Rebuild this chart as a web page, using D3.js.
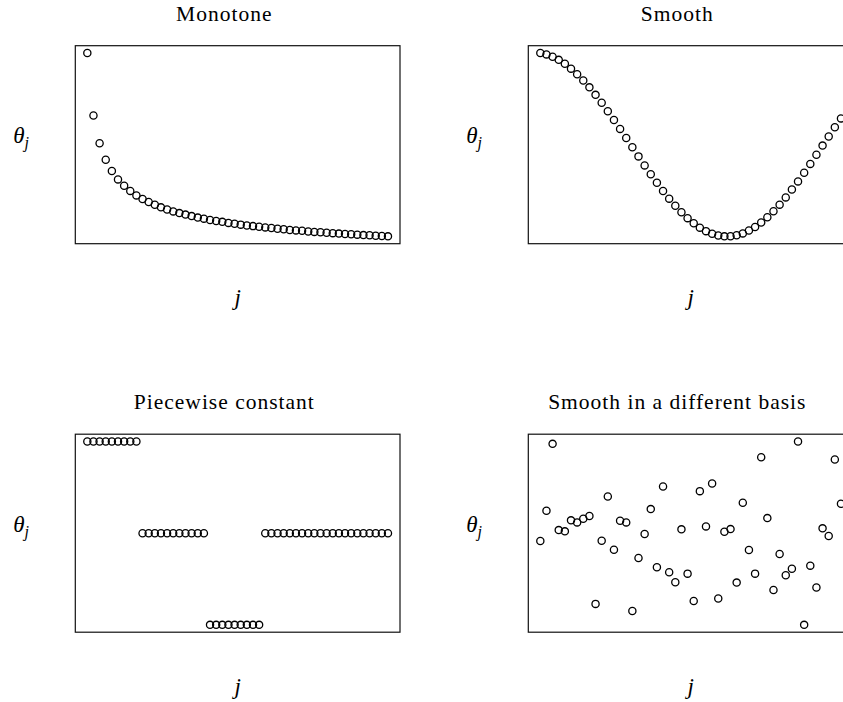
<!DOCTYPE html>
<html>
<head>
<meta charset="utf-8">
<script src="https://cdn.jsdelivr.net/npm/d3@7/dist/d3.min.js"></script>
<style>
    body { margin: 0; background: #fff; }
    text { font-family: "Liberation Serif", "DejaVu Serif", serif; fill: #000; }
</style>
</head>
<body>
<svg id="figure" width="843" height="702"></svg>
<script>
// index j = 1..50, same for every panel
var jIndex = d3.range(1, 51);

var panelTitles = ["Monotone", "Smooth", "Piecewise constant", "Smooth in a different basis"];

var monotoneTheta = [1.000, 0.707, 0.577, 0.500, 0.447, 0.408, 0.378, 0.354, 0.333, 0.316,
    0.302, 0.289, 0.277, 0.267, 0.258, 0.250, 0.243, 0.236, 0.229, 0.224,
    0.218, 0.213, 0.209, 0.204, 0.200, 0.196, 0.192, 0.189, 0.186, 0.183,
    0.180, 0.177, 0.174, 0.171, 0.169, 0.167, 0.164, 0.162, 0.160, 0.158,
    0.156, 0.154, 0.152, 0.151, 0.149, 0.147, 0.146, 0.144, 0.143, 0.141];

var smoothTheta = [0.995, 0.980, 0.955, 0.921, 0.878, 0.825, 0.765, 0.697, 0.622, 0.540,
    0.454, 0.362, 0.267, 0.170, 0.071, -0.029, -0.129, -0.227, -0.323, -0.416,
    -0.505, -0.589, -0.666, -0.737, -0.801, -0.857, -0.904, -0.942, -0.971, -0.990,
    -0.999, -0.998, -0.987, -0.967, -0.936, -0.897, -0.848, -0.791, -0.726, -0.654,
    -0.575, -0.490, -0.401, -0.307, -0.211, -0.112, -0.012, 0.087, 0.187, 0.284];

var piecewiseTheta = [1, 1, 1, 1, 1, 1, 1, 1, 1,
    0, 0, 0, 0, 0, 0, 0, 0, 0, 0, 0,
    -1, -1, -1, -1, -1, -1, -1, -1, -1,
    0, 0, 0, 0, 0, 0, 0, 0, 0, 0, 0, 0, 0, 0, 0, 0, 0, 0, 0, 0, 0];

var basisTheta = [-0.085, 0.245, 0.975, 0.034, 0.020, 0.140, 0.118, 0.158, 0.187, -0.771,
    -0.082, 0.401, -0.180, 0.136, 0.118, -0.848, -0.270, -0.009, 0.263, -0.372,
    0.510, -0.426, -0.535, 0.042, -0.441, -0.739, 0.459, 0.074, 0.543, -0.713,
    0.016, 0.045, -0.539, 0.332, -0.183, -0.441, 0.829, 0.165, -0.619, -0.227,
    -0.459, -0.387, 1.000, -1.000, -0.354, -0.593, 0.053, -0.031, 0.804, 0.321];

var svg = d3.select("#figure");

// plot regions (the right column runs past the edge of the picture)
var panelW = 324.7, panelH = 198;
var lefts = [75.3, 528.3];
var tops = [45.7, 434.2];
var titleOffset = 149;

// R style range: data range stretched by 4% on each side
function padDomain(values) {
    var ext = d3.extent(values);
    var pad = (ext[1] - ext[0]) * 0.04;
    return [ext[0] - pad, ext[1] + pad];
}

function drawPanel(x0, y0, title, theta) {
    var x = d3.scaleLinear().domain(padDomain(jIndex)).range([x0, x0 + panelW]);
    var y = d3.scaleLinear().domain(padDomain(theta)).range([y0 + panelH, y0]);

    var g = svg.append("g").attr("class", "panel");

    g.selectAll("circle")
        .data(jIndex)
        .enter()
        .append("circle")
        .attr("cx", function (d) { return x(d); })
        .attr("cy", function (d, i) { return y(theta[i]); })
        .attr("r", 3.6)
        .style("fill", "none")
        .style("stroke", "#000")
        .style("stroke-width", 1.3);

    g.append("rect")
        .attr("x", x0)
        .attr("y", y0)
        .attr("width", panelW)
        .attr("height", panelH)
        .style("fill", "none")
        .style("stroke", "#111")
        .style("stroke-width", 1.2);

    g.append("text")
        .attr("x", x0 + titleOffset)
        .attr("y", y0 - 25.2)
        .attr("text-anchor", "middle")
        .style("font-size", "21.5px")
        .style("letter-spacing", "1px")
        .text(title);

    // theta_j on the left
    var ylab = g.append("text")
        .attr("x", x0 - 62)
        .attr("y", y0 + panelH / 2 - 1.5)
        .style("font-size", "23px")
        .style("font-style", "italic");
    ylab.append("tspan").text("θ");
    ylab.append("tspan")
        .attr("dy", 5)
        .style("font-size", "16px")
        .text("j");

    g.append("text")
        .attr("x", x0 + panelW / 2)
        .attr("y", y0 + panelH + 61.5)
        .attr("text-anchor", "middle")
        .style("font-size", "23px")
        .style("font-style", "italic")
        .text("j");
}

drawPanel(lefts[0], tops[0], panelTitles[0], monotoneTheta);
drawPanel(lefts[1], tops[0], panelTitles[1], smoothTheta);
drawPanel(lefts[0], tops[1], panelTitles[2], piecewiseTheta);
drawPanel(lefts[1], tops[1], panelTitles[3], basisTheta);
</script>
</body>
</html>
